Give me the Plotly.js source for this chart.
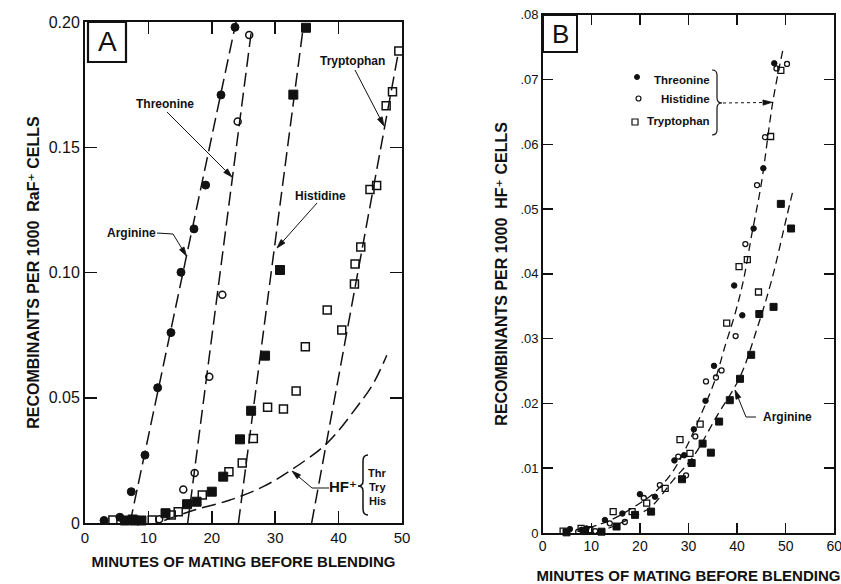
<!DOCTYPE html>
<html><head><meta charset="utf-8">
<script src="https://cdn.plot.ly/plotly-3.0.1.min.js"></script>
<style>html,body{margin:0;padding:0;background:#fff}#chart{width:841px;height:584px}</style>
</head><body><div id="chart"></div>
<script>
// ---------------- Panel A data (RaF+ donor) ----------------
const aArgX = [3.0, 5.5, 7.3, 9.46, 11.46, 13.56, 15.14, 17.19, 19.03, 21.45, 23.66];
const aArgY = [0.001, 0.0023, 0.0125, 0.0271, 0.054, 0.076, 0.1001, 0.1174, 0.1349, 0.1709, 0.1979];
const aThrX = [11.7, 15.5, 17.3, 19.6, 21.66, 24.08, 25.9];
const aThrY = [0.0015, 0.0134, 0.020, 0.0584, 0.0911, 0.1603, 0.1948];
const aHisX = [6.3, 7.8, 8.9, 12.7, 16.1, 17.6, 20.0, 21.8, 24.45, 26.2, 28.4, 30.76, 32.86, 34.86];
const aHisY = [0.001, 0.001, 0.001, 0.0039, 0.0075, 0.0085, 0.0125, 0.0185, 0.0334, 0.0448, 0.0668, 0.101, 0.171, 0.1977];
const aTryX = [4.4, 7.5, 10.6, 13.6, 14.7, 18.5, 22.7, 24.8, 26.55, 28.8, 31.3, 33.3, 34.75, 38.2, 40.5, 42.5, 42.6, 43.5, 44.95, 46.0, 47.5, 48.5, 49.5];
const aTryY = [0.0012, 0.0015, 0.0012, 0.0032, 0.0045, 0.0112, 0.0205, 0.024, 0.0337, 0.0462, 0.0455, 0.0527, 0.0704, 0.085, 0.077, 0.0954, 0.1034, 0.1102, 0.1331, 0.1347, 0.1666, 0.1722, 0.1884];
// fitted dashed lines (end points)
const aArgLineX = [7.1, 23.9],  aArgLineY = [0, 0.201];
const aThrLineX = [16.2, 26.2], aThrLineY = [0, 0.1955];
const aHisLineX = [24.2, 34.4], aHisLineY = [0, 0.1975];
const aTryLineX = [35.75, 49.4], aTryLineY = [0, 0.1875];
const aHfX = [12.5, 17, 22.9, 28.1, 32.3, 38.15, 42.9, 45.5, 47.6];
const aHfY = [0.001, 0.005, 0.0092, 0.0145, 0.0208, 0.0318, 0.0464, 0.0558, 0.067];
const aXTicks = [0, 10, 20, 30, 40, 50];
const aYTicks = [0, 0.05, 0.10, 0.15, 0.20];
const aYTickText = ['0', '0.05', '0.10', '0.15', '0.20'];

// ---------------- Panel B data (HF+ donor) ----------------
const bThrX = [5.6, 8.0, 9.0, 12.8, 16.4, 20.0, 23.1, 27.1, 29.1, 31.1, 33.5, 35.25, 39.4, 41.07, 43.4, 45.4, 47.65];
const bThrY = [0.0006, 0.0005, 0.0007, 0.002, 0.003, 0.006, 0.0056, 0.0112, 0.012, 0.016, 0.0204, 0.0258, 0.0382, 0.0336, 0.047, 0.0563, 0.0725];
const bHisX = [7.3, 10.8, 13.8, 16.9, 20.8, 24.1, 27.9, 29.5, 31.4, 33.6, 35.65, 36.8, 39.7, 41.7, 44.1, 45.75, 48.1, 50.27];
const bHisY = [0.0002, 0.0003, 0.0015, 0.0017, 0.0054, 0.0074, 0.0118, 0.0089, 0.0149, 0.0234, 0.024, 0.0251, 0.0304, 0.0446, 0.0537, 0.0611, 0.0717, 0.0724];
const bTryX = [4.2, 7.9, 9.7, 14.5, 18.4, 21.4, 25.2, 28.25, 30.3, 32.4, 37.86, 40.4, 42.1, 44.4, 46.9, 49.0];
const bTryY = [0.0003, 0.0007, 0.0005, 0.0033, 0.0033, 0.0046, 0.0069, 0.0144, 0.0123, 0.0168, 0.0324, 0.0411, 0.0422, 0.0372, 0.0612, 0.0714];
const bArgX = [4.9, 8.7, 12.1, 15.2, 19.0, 22.3, 28.66, 30.65, 32.9, 34.6, 36.3, 38.5, 40.6, 42.9, 44.57, 47.5, 49.0, 51.1];
const bArgY = [0.0001, 0.0003, 0.0002, 0.001, 0.0028, 0.0033, 0.0083, 0.0108, 0.0138, 0.0124, 0.0172, 0.0205, 0.0238, 0.0275, 0.0338, 0.0349, 0.0508, 0.047];
const bUpX = [9.4, 14, 20, 22.8, 26.5, 29.6, 32.7, 35.45, 37.5, 39.6, 41.3, 43, 45, 47.4, 49.4];
const bUpY = [0.0008, 0.002, 0.0046, 0.0061, 0.0092, 0.0133, 0.0185, 0.0236, 0.0288, 0.0339, 0.039, 0.046, 0.054, 0.0668, 0.0745];
const bLowX = [11, 15, 20, 22.4, 26.9, 31, 35.8, 40.6, 44, 47.1, 50.2, 51.6];
const bLowY = [0, 0.0012, 0.003, 0.0041, 0.0082, 0.0118, 0.018, 0.0241, 0.0313, 0.039, 0.0488, 0.0532];
const bXTicks = [0, 10, 20, 30, 40, 50, 60];
const bYTicks = [0, 0.01, 0.02, 0.03, 0.04, 0.05, 0.06, 0.07, 0.08];
const bYTickText = ['0', '.01', '.02', '.03', '.04', '.05', '.06', '.07', '.08'];

// ---------------- helpers ----------------
const W = 841, H = 584;
const FONT = 'Liberation Sans, DejaVu Sans, Arial, sans-serif';
const px = v => v / W, py = v => 1 - v / H;
function path(pts) { // pts: array of [cmd, x, y, ...] in pixels -> paper path
  return pts.map(p => p[0] + (p.length > 1 ? ' ' : '') + p.slice(1).map((v, i) => (i % 2 ? py(v) : px(v))).reduce((s, v, i) => s + (i ? (i % 2 ? ',' : ' ') : '') + v, '')).join(' ');
}
const black = '#111';
function pts(x, y, xa, ya, symbol, size, lw) {
  return {x, y, xaxis: xa, yaxis: ya, type: 'scatter', mode: 'markers', cliponaxis: false,
    marker: {symbol, size, color: black, line: {color: black, width: lw}}, hoverinfo: 'skip'};
}
function dline(x, y, xa, ya, dash, w, shape) {
  return {x, y, xaxis: xa, yaxis: ya, type: 'scatter', mode: 'lines', cliponaxis: false,
    line: {color: black, width: w, dash, shape: shape || 'linear', smoothing: 1.0}, hoverinfo: 'skip'};
}

const dA = '14px,6px', dB = '8px,5px';
const data = [
  dline(aArgLineX, aArgLineY, 'x', 'y', dA, 1.5),
  dline(aThrLineX, aThrLineY, 'x', 'y', dA, 1.5),
  dline(aHisLineX, aHisLineY, 'x', 'y', dA, 1.5),
  dline(aTryLineX, aTryLineY, 'x', 'y', dA, 1.5),
  dline(aHfX, aHfY, 'x', 'y', dA, 1.5, 'spline'),
  pts(aArgX, aArgY, 'x', 'y', 'circle', 8, 1),
  pts(aThrX, aThrY, 'x', 'y', 'circle-open', 7, 1.5),
  pts(aHisX, aHisY, 'x', 'y', 'square', 9, 1),
  pts(aTryX, aTryY, 'x', 'y', 'square-open', 8, 1.5),
  dline(bUpX, bUpY, 'x2', 'y2', dB, 1.3, 'spline'),
  dline(bLowX, bLowY, 'x2', 'y2', dB, 1.3, 'spline'),
  pts(bThrX, bThrY, 'x2', 'y2', 'circle', 5.5, 1),
  pts(bHisX, bHisY, 'x2', 'y2', 'circle-open', 5, 1.3),
  pts(bTryX, bTryY, 'x2', 'y2', 'square-open', 6, 1.3),
  pts(bArgX, bArgY, 'x2', 'y2', 'square', 7, 1)
];

const axBase = {showgrid: false, zeroline: false, showline: true, linecolor: black, mirror: 'ticks',
  ticks: 'inside', tickcolor: black, color: black, ticklabeloverflow: 'allow'};
const shapes = [
  // panel letter boxes
  {type: 'rect', xref: 'paper', yref: 'paper', x0: px(88), x1: px(126), y0: py(62), y1: py(22), line: {color: black, width: 2.2}},
  {type: 'rect', xref: 'paper', yref: 'paper', x0: px(543), x1: px(577), y0: py(52), y1: py(15), line: {color: black, width: 2}},
  // Arginine (A) leader
  {type: 'path', xref: 'paper', yref: 'paper', path: path([['M', 157, 233], ['L', 173, 234]]), line: {color: black, width: 1}},
  // HF+ leader
  {type: 'path', xref: 'paper', yref: 'paper', path: path([['M', 329, 488], ['L', 312, 488]]), line: {color: black, width: 1}},
  // HF+ brace
  {type: 'path', xref: 'paper', yref: 'paper', line: {color: black, width: 1.5},
    path: path([['M', 368, 455], ['Q', 363, 455, 363, 461], ['L', 363, 481], ['Q', 363, 486, 358, 486],
                ['Q', 363, 486, 363, 491], ['L', 363, 509], ['Q', 363, 515, 368, 515]])},
  // B legend brace
  {type: 'path', xref: 'paper', yref: 'paper', line: {color: black, width: 1.2},
    path: path([['M', 712, 70], ['Q', 717, 70, 717, 75], ['L', 717, 98], ['Q', 717, 103, 722, 103],
                ['Q', 717, 103, 717, 108], ['L', 717, 130], ['Q', 717, 135, 712, 135]])},
  // B legend dotted pointer
  {type: 'line', xref: 'paper', yref: 'paper', x0: px(723), x1: px(764), y0: py(103), y1: py(102.5), line: {color: black, width: 1, dash: 'dot'}},
  // B Arginine leader
  {type: 'path', xref: 'paper', yref: 'paper', path: path([['M', 756, 417], ['L', 746, 417]]), line: {color: black, width: 1}},
  // B legend symbols
  {type: 'circle', xref: 'paper', yref: 'paper', x0: px(634.5), x1: px(639.5), y0: py(79.5), y1: py(74.5), fillcolor: black, line: {color: black, width: 1}},
  {type: 'circle', xref: 'paper', yref: 'paper', x0: px(636), x1: px(641), y0: py(101), y1: py(96), line: {color: black, width: 1.2}},
  {type: 'rect', xref: 'paper', yref: 'paper', x0: px(632), x1: px(638), y0: py(125), y1: py(119), line: {color: black, width: 1.2}}
];
// arrow = line from tail to the base of a narrow filled head at the tip (pixel coordinates)
function arrow(x0, y0, x1, y1, drawLine) {
  const dx = x1 - x0, dy = y1 - y0, L = Math.hypot(dx, dy), ux = dx / L, uy = dy / L;
  const hl = 9, hw = 2.6, bx = x1 - ux * hl, by = y1 - uy * hl;
  if (drawLine !== false) shapes.push({type: 'path', xref: 'paper', yref: 'paper', line: {color: black, width: 1},
    path: path([['M', x0, y0], ['L', bx, by]])});
  shapes.push({type: 'path', xref: 'paper', yref: 'paper', fillcolor: black, line: {color: black, width: 0.8},
    path: path([['M', x1, y1], ['L', bx - uy * hw, by + ux * hw], ['L', bx + uy * hw, by - ux * hw], ['Z']])});
}
arrow(167, 112, 232, 177);      // Threonine (A)
arrow(317, 203, 277, 248);      // Histidine (A)
arrow(355, 70, 384, 126);       // Tryptophan (A)
arrow(173, 234, 186.5, 256);    // Arginine (A)
arrow(312, 488, 292, 471);      // HF+
arrow(762, 102.6, 772, 102.3, false); // B legend pointer head
arrow(746, 417, 735, 390);      // Arginine (B)

const layout = {
  width: W, height: H, margin: {l: 0, r: 0, t: 0, b: 0}, showlegend: false,
  paper_bgcolor: '#fff', plot_bgcolor: '#fff', font: {family: FONT, color: black},
  xaxis: Object.assign({}, axBase, {domain: [px(85), px(402)], range: [0, 50], anchor: 'y',
    tickmode: 'array', tickvals: aXTicks, ticklen: 12, tickwidth: 1.5, linewidth: 2,
    tickfont: {size: 15, family: FONT},
    title: {text: '<b>MINUTES OF MATING BEFORE BLENDING</b>', font: {size: 15, family: FONT}, standoff: 11}}),
  yaxis: Object.assign({}, axBase, {domain: [py(523), py(22)], range: [0, 0.2], anchor: 'x',
    tickmode: 'array', tickvals: aYTicks, ticktext: aYTickText, ticklen: 12, tickwidth: 1.5, linewidth: 2,
    tickfont: {size: 16, family: FONT},
    title: {text: '<b>RECOMBINANTS PER 1000  RaF⁺ CELLS</b>', font: {size: 16, family: FONT}, standoff: 5}}),
  xaxis2: Object.assign({}, axBase, {domain: [px(542.7), px(834.3)], range: [0, 60], anchor: 'y2',
    tickmode: 'array', tickvals: bXTicks, ticklen: 10, tickwidth: 1.5, linewidth: 1.6,
    tickfont: {size: 14, family: FONT},
    title: {text: '<b>MINUTES OF MATING BEFORE BLENDING</b>', font: {size: 15, family: FONT}, standoff: 21}}),
  yaxis2: Object.assign({}, axBase, {domain: [py(533), py(14.7)], range: [0, 0.08], anchor: 'x2',
    tickmode: 'array', tickvals: bYTicks, ticktext: bYTickText, ticklen: 10, tickwidth: 1.5, linewidth: 1.6,
    tickfont: {size: 13, family: FONT},
    title: {text: '<b>RECOMBINANTS PER 1000  HF⁺ CELLS</b>', font: {size: 16, family: FONT}, standoff: 9}}),
  shapes: shapes,
  annotations: []
};

const ann = layout.annotations;
function label(x, y, text, size, extra) {
  ann.push(Object.assign({xref: 'paper', yref: 'paper', x: px(x), y: py(y), text, showarrow: false,
    font: {size: size, family: FONT, color: black}, xanchor: 'center', yanchor: 'middle'}, extra || {}));
}
label(107, 42, 'A', 28);
label(560, 34, 'B', 26);
label(165, 104, '<b>Threonine</b>', 12);
label(320, 196, '<b>Histidine</b>', 12);
label(352, 61, '<b>Tryptophan</b>', 12);
label(131, 233, '<b>Arginine</b>', 12);
label(343, 486, '<b>HF⁺</b>', 15);
label(377, 473, '<b>Thr</b>', 11);
label(377, 487, '<b>Try</b>', 11);
label(377, 501, '<b>His</b>', 11);
label(712, 80, '<b>Threonine</b>', 11.5, {xanchor: 'right'});
label(712, 99, '<b>Histidine</b>', 11.5, {xanchor: 'right'});
label(712, 121, '<b>Tryptophan</b>', 11.5, {xanchor: 'right'});
label(787, 417, '<b>Arginine</b>', 12);

Plotly.newPlot('chart', data, layout, {staticPlot: true, displayModeBar: false});
</script></body></html>
